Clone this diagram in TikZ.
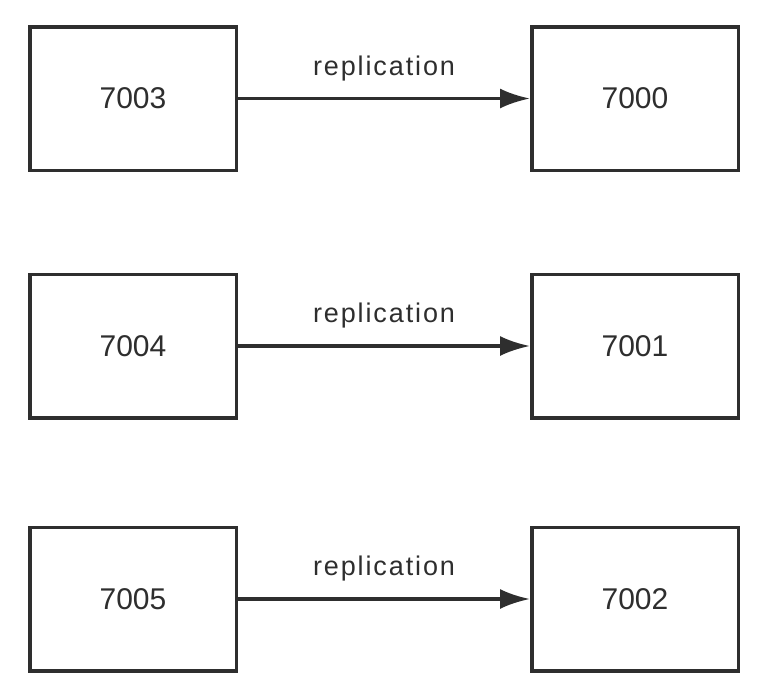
\documentclass[tikz,border=0pt]{standalone}
\usepackage{fontspec}
\setmainfont{Liberation Sans}
\usepackage{tikz}
\usetikzlibrary{arrows.meta,positioning}
\definecolor{linegray}{HTML}{2E2E2E}
\tikzset{
  port-box/.style={draw=linegray, line width=3.5pt, fill=white, text=linegray,
    minimum width=206.5pt, minimum height=143.5pt, inner sep=0pt,
    font=\fontsize{30}{36}\selectfont},
  repl-arrow/.style={-{Latex[length=30pt, width=20pt]}, draw=linegray, line width=3.5pt},
  repl-label/.style={midway, above=16pt, inner sep=0pt, text=linegray,
    font=\fontsize{27}{32}\selectfont\addfontfeatures{LetterSpace=7}}
}

\begin{document}
\begin{tikzpicture}[x=1pt, y=-1pt]
  \useasboundingbox (0,0) rectangle (764,683);

  % Replica / master pairs
  \node[port-box] (r3) at (133,98.5) {7003};
  \node[port-box] (m0) at (635,98.5) {7000};
  \node[port-box] (r4) at (133,346) {7004};
  \node[port-box] (m1) at (635,346) {7001};
  \node[port-box] (r5) at (133,599) {7005};
  \node[port-box] (m2) at (635,599) {7002};

  \draw[repl-arrow] (r3.east) -- node[repl-label] {replication} (m0.west);
  \draw[repl-arrow] (r4.east) -- node[repl-label] {replication} (m1.west);
  \draw[repl-arrow] (r5.east) -- node[repl-label] {replication} (m2.west);
\end{tikzpicture}
\end{document}
